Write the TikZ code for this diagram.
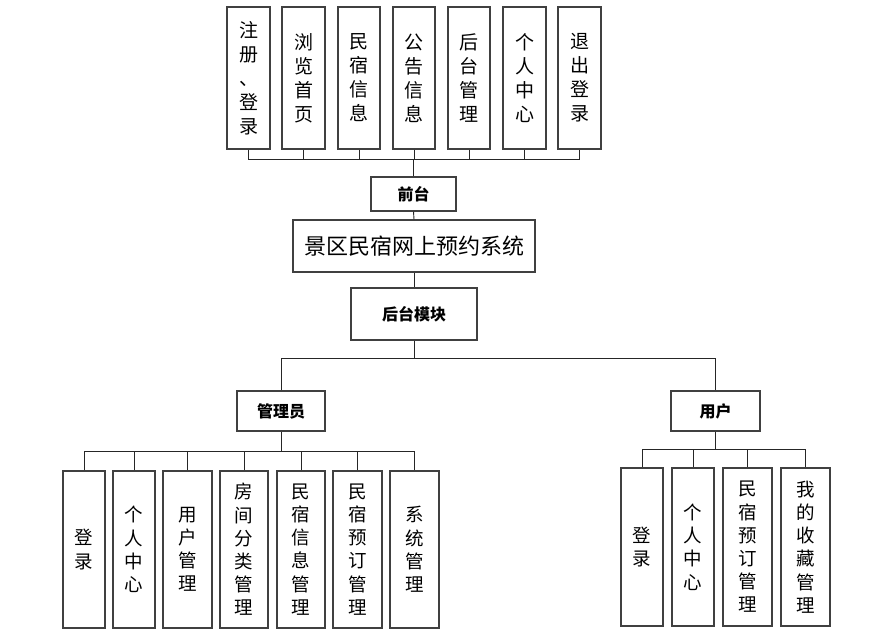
\documentclass[tikz,border=0pt]{standalone}
\usepackage{fontspec}
\newfontfamily\cjk{Noto Sans CJK SC}
\begin{document}
\begin{tikzpicture}[x=1pt,y=-1pt,
  box/.style={draw=black!75,line width=1.1pt,inner sep=0pt,align=center,font=\cjk},
  vbox/.style={box,minimum width=#1,minimum height=142pt,font=\cjk\fontsize{19}{24}\selectfont},
  lbox/.style={box,minimum width=#1,minimum height=157pt,font=\cjk\fontsize{18.5}{23.2}\selectfont},
  bbox/.style={box,font=\cjk\bfseries\fontsize{16}{18}\selectfont},
  conn/.style={draw=black!85,line width=0.9pt}]
\useasboundingbox (0,0) rectangle (896,634);
% top row
\node[vbox=43pt] (t1) at (248.5,78) {注\\册\\、\\登\\录};
\node[vbox=43pt] (t2) at (303.5,78) {浏\\览\\首\\页};
\node[vbox=42pt] (t3) at (359,78) {民\\宿\\信\\息};
\node[vbox=42pt] (t4) at (414,78) {公\\告\\信\\息};
\node[vbox=42pt] (t5) at (469,78) {后\\台\\管\\理};
\node[vbox=43pt] (t6) at (524.5,78) {个\\人\\中\\心};
\node[vbox=43pt] (t7) at (579.5,78) {退\\出\\登\\录};
\coordinate (busT) at (0,159);
\node[bbox,minimum width=85pt,minimum height=34pt] (qt) at (413.5,194) {前台};
\node[box,minimum width=242pt,minimum height=52pt,font=\cjk\fontsize{22}{24}\selectfont] (sys) at (414,246) {景区民宿网上预约系统};
\node[bbox,minimum width=126pt,minimum height=52pt] (hm) at (414,314) {后台模块};
\coordinate (split) at (0,358);
\node[bbox,minimum width=88pt,minimum height=40pt] (gl) at (281,411) {管理员};
\node[bbox,minimum width=89pt,minimum height=40pt] (yh) at (715.5,411) {用户};
% admin children
\coordinate (busA) at (0,451);
\node[lbox=42pt] (a1) at (84,549.5) {登\\录};
\node[lbox=42pt] (a2) at (134,549.5) {个\\人\\中\\心};
\node[lbox=49pt] (a3) at (187.5,549.5) {用\\户\\管\\理};
\node[lbox=48pt] (a4) at (244,549.5) {房\\间\\分\\类\\管\\理};
\node[lbox=48pt] (a5) at (301,549.5) {民\\宿\\信\\息\\管\\理};
\node[lbox=49pt] (a6) at (357.5,549.5) {民\\宿\\预\\订\\管\\理};
\node[lbox=49pt] (a7) at (414.5,549.5) {系\\统\\管\\理};
% user children
\coordinate (busU) at (0,449);
\node[lbox=42pt,minimum height=158pt] (u1) at (642,547) {登\\录};
\node[lbox=42pt,minimum height=158pt] (u2) at (693,547) {个\\人\\中\\心};
\node[lbox=49pt,minimum height=158pt] (u3) at (747.5,547) {民\\宿\\预\\订\\管\\理};
\node[lbox=49pt,minimum height=158pt] (u4) at (805.5,547) {我\\的\\收\\藏\\管\\理};
% connectors top
\draw[conn] (t1.south) |- (t7.south |- busT) -- (t7.south);
\foreach \n in {t2,t3,t4,t5,t6} \draw[conn] (\n.south) -- (\n.south |- busT);
\draw[conn] (qt.north) -- (qt.north |- busT);
\draw[conn] (qt.south) -- (sys.north);
\draw[conn] (sys.south) -- (hm.north);
\draw[conn] (hm.south) -- (hm.south |- split);
\draw[conn] (gl.north) |- (yh.north |- split) -- (yh.north);
% admin tree
\draw[conn] (gl.south) -- (gl.south |- busA);
\draw[conn] (a1.north) |- (a7.north |- busA) -- (a7.north);
\foreach \n in {a2,a3,a4,a5,a6} \draw[conn] (\n.north) -- (\n.north |- busA);
% user tree
\draw[conn] (yh.south) -- (yh.south |- busU);
\draw[conn] (u1.north) |- (u4.north |- busU) -- (u4.north);
\foreach \n in {u2,u3} \draw[conn] (\n.north) -- (\n.north |- busU);
\end{tikzpicture}
\end{document}
